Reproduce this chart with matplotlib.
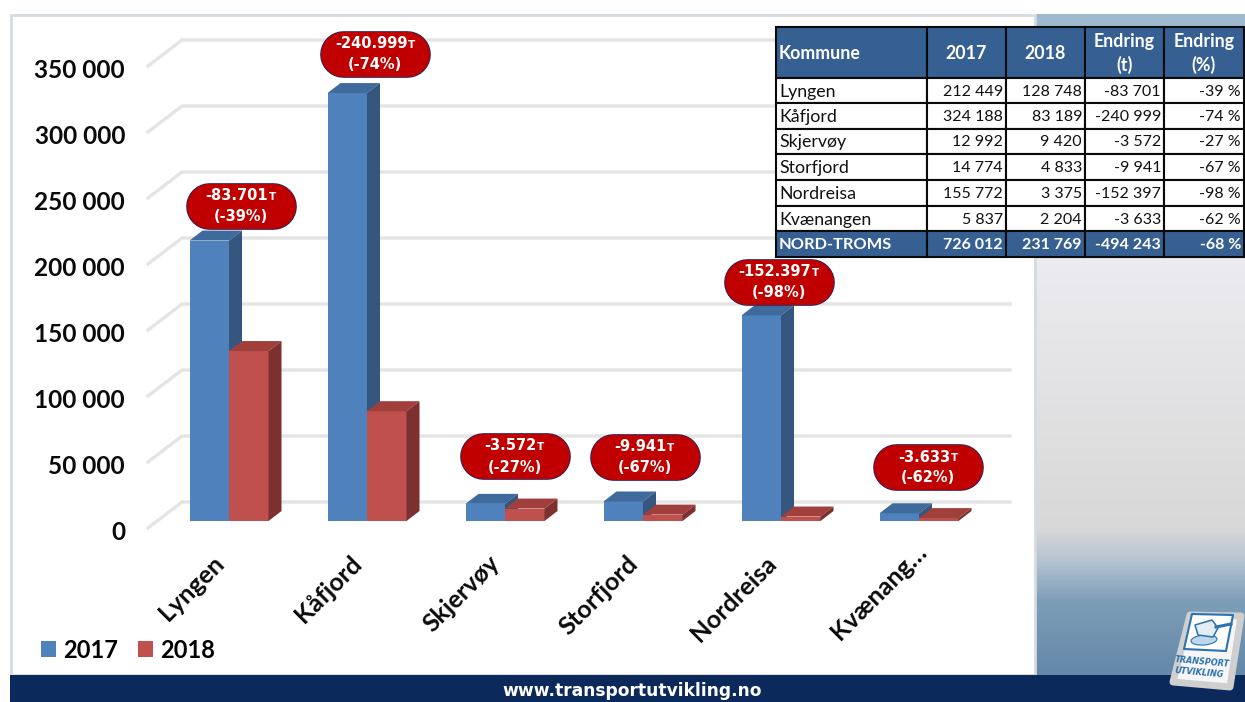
import numpy as np
import matplotlib
matplotlib.use("Agg")
import matplotlib.pyplot as plt
from matplotlib.colors import LinearSegmentedColormap
from matplotlib.patches import Ellipse, Polygon, Rectangle
from matplotlib.transforms import Affine2D

plt.rcParams['font.family'] = ['Lato', 'DejaVu Sans']

# chart values
kommuner = ["Lyngen", "Kåfjord", "Skjervøy", "Storfjord", "Nordreisa", "Kvænang…"]
v2017 = [212449, 324188, 12992, 14774, 155772, 5837]
v2018 = [128748, 83189, 9420, 4833, 3375, 2204]
yticks = [0, 50000, 100000, 150000, 200000, 250000, 300000, 350000]
ylabels = ["0", "50 000", "100 000", "150 000", "200 000", "250 000", "300 000", "350 000"]

# callouts
call_tons = ["-83.701", "-240.999", "-3.572", "-9.941", "-152.397", "-3.633"]
call_pct = ["(-39%)", "(-74%)", "(-27%)", "(-67%)", "(-98%)", "(-62%)"]
call_x = [241, 375, 514.5, 644.5, 778.5, 928]
call_y = [205.5, 53.5, 456, 456.5, 281.5, 467]

# table
header = ["Kommune", "2017", "2018", "Endring\n(t)", "Endring\n(%)"]
rows = [
    ["Lyngen", "212 449", "128 748", "-83 701", "-39 %"],
    ["Kåfjord", "324 188", "83 189", "-240 999", "-74 %"],
    ["Skjervøy", "12 992", "9 420", "-3 572", "-27 %"],
    ["Storfjord", "14 774", "4 833", "-9 941", "-67 %"],
    ["Nordreisa", "155 772", "3 375", "-152 397", "-98 %"],
    ["Kvænangen", "5 837", "2 204", "-3 633", "-62 %"],
]
total = ["NORD-TROMS", "726 012", "231 769", "-494 243", "-68 %"]

W, H = 1245, 702
BLUE, BLUE_TOP, BLUE_SIDE = "#4F81BD", "#3F6A9C", "#34567F"
RED, RED_TOP, RED_SIDE = "#C0504D", "#A03F3C", "#7C3130"
NAVY = "#0B2A5B"
TBL = "#376092"
LOGO = "#2A72B0"

fig = plt.figure(figsize=(W / 100, H / 100), dpi=100, facecolor="white")

# background, in pixel coords
bg = fig.add_axes([0, 0, 1, 1], zorder=0)
cm = LinearSegmentedColormap.from_list("panel", [
    (0, "#9FB9CE"), (0.03, "#9FB9CE"), (0.37, "#ECECF0"), (0.78, "#D8D8D8"),
    (0.83, "#B4C3D1"), (0.89, "#7E9EB8"), (1, "#6488A8")])
grad = np.linspace(0, 1, 400).reshape(-1, 1)
bg.imshow(grad, cmap=cm, extent=(1036, W, 675, 14), aspect="auto", zorder=1)
bg.add_patch(Rectangle((11, 15), 1024, 660, fc="white", ec="#D5DBE1", lw=2, zorder=1))
bg.add_patch(Rectangle((10, 675), W - 10, 27, fc=NAVY, ec="none", zorder=2))
bg.set_xlim(0, W)
bg.set_ylim(H, 0)
bg.axis("off")
bg.text(632.5, 691, "www.transportutvikling.no", color="white", fontsize=12.35, fontweight="bold",
        family="DejaVu Sans", ha="center", va="center", zorder=3)

# chart axes: 66 px per 50 000, zero at the foot of the bars
ax = fig.add_axes([148 / W, (H - 521) / H, 828 / W, 462 / H], zorder=1)
ax.patch.set_alpha(0)
ax.set_xlim(-0.587, 5.413)
ax.set_ylim(0, 350000)
for s in ax.spines.values():
    s.set_visible(False)

bw = 39.5 / 138
dx = 13 / 138
dy = 10 * 50000 / 66
grid_front = -7 * 50000 / 66
grid_back = 19 * 50000 / 66
for t in yticks:
    ax.plot([-0.587, -0.587 + 34 / 138, 5.413 + 34 / 138],
            [t + grid_front, t + grid_back, t + grid_back],
            color="#E4E4E4", lw=2.4, clip_on=False, zorder=1, solid_joinstyle="miter")


def bar3d(x, val, front, top, side, z):
    ax.bar(x, val, bw, align="edge", color=front, zorder=z)
    ax.add_patch(Polygon([(x, val), (x + bw, val), (x + bw + dx, val + dy), (x + dx, val + dy)],
                         fc=top, ec="none", zorder=z, clip_on=False))
    ax.add_patch(Polygon([(x + bw, 0), (x + bw + dx, dy), (x + bw + dx, val + dy), (x + bw, val)],
                         fc=side, ec="none", zorder=z, clip_on=False))


for i in range(len(kommuner)):
    bar3d(i - bw, v2017[i], BLUE, BLUE_TOP, BLUE_SIDE, 3)
    bar3d(i, v2018[i], RED, RED_TOP, RED_SIDE, 4)

ax.set_yticks(yticks)
ax.set_yticklabels(ylabels, fontsize=17.6, fontweight="bold", color="#0a0a0a")
ax.set_xticks(range(len(kommuner)))
ax.set_xticklabels(kommuner, fontsize=18, fontweight="bold", color="#0a0a0a",
                   rotation=45, ha="right", rotation_mode="anchor")
ax.tick_params(axis="both", length=0)
ax.tick_params(axis="y", pad=16.5)
ax.tick_params(axis="x", pad=22)
# tick_params resets these, so shift the labels afterwards
for lab in ax.get_yticklabels():
    lab.set_transform(lab.get_transform() + Affine2D().translate(0, -9))
xlabs = ax.get_xticklabels()
for lab in xlabs[:-1]:
    lab.set_transform(lab.get_transform() + Affine2D().translate(-17, 0))
# the cut-off label sits further up and right
xlabs[-1].set_transform(xlabs[-1].get_transform() + Affine2D().translate(-4, 12))

leg = ax.legend(handles=[Rectangle((0, 0), 1, 1, fc=BLUE), Rectangle((0, 0), 1, 1, fc=RED)],
                labels=["2017", "2018"], ncol=2, frameon=False,
                prop={"size": 17, "weight": "bold"},
                loc="center left", bbox_to_anchor=(41 / W, (H - 650) / H),
                bbox_transform=fig.transFigure, handlelength=0.64, handleheight=0.64,
                handletextpad=0.3, columnspacing=0.85, borderpad=0, borderaxespad=0)

# overlay for callouts, table and logo
ov = fig.add_axes([0, 0, 1, 1], zorder=2)
ov.set_xlim(0, W)
ov.set_ylim(H, 0)
ov.axis("off")

for x, y, tons, pct in zip(call_x, call_y, call_tons, call_pct):
    # pill: thick round-capped lines, 46 px tall
    ov.plot([x - 32, x + 32], [y, y], color="#1F1F5F", lw=33.6, solid_capstyle="round", zorder=3)
    ov.plot([x - 32, x + 32], [y, y], color="#C00000", lw=32.4, solid_capstyle="round", zorder=3)
    t = ov.text(x - 4, y - 10, tons, color="white", fontsize=10.5, fontweight="bold",
                family="DejaVu Sans", ha="center", va="center", zorder=4)
    ov.annotate("T", xy=(1, 0), xycoords=t, xytext=(0.5, 1), textcoords="offset points",
                color="white", fontsize=7.5, fontweight="bold", family="DejaVu Sans",
                ha="left", va="bottom", zorder=4)
    ov.text(x, y + 11, pct, color="white", fontsize=10.5, fontweight="bold",
            family="DejaVu Sans", ha="center", va="center", zorder=4)

col_edges = [776, 927, 1006, 1085, 1164, 1244]
row_edges = [27, 78, 103, 129, 154, 180, 206, 231, 257]
all_rows = [header] + rows + [total]
for r, vals in enumerate(all_rows):
    filled = r == 0 or r == len(all_rows) - 1
    for c, val in enumerate(vals):
        x0, x1 = col_edges[c], col_edges[c + 1]
        y0, y1 = row_edges[r], row_edges[r + 1]
        ov.add_patch(Rectangle((x0, y0), x1 - x0, y1 - y0, fc=TBL if filled else "white",
                               ec="#0a0a0a", lw=1.5, zorder=5))
        if r == 0:
            px, ha = (x0 + 3, "left") if c == 0 else ((x0 + x1) / 2, "center")
        else:
            px, ha = (x0 + 3, "left") if c == 0 else (x1 - 3, "right")
        fs = 12.8 if (c == 0 or r == 0) else 11.5
        if r == len(all_rows) - 1 and c == 0:
            fs = 11.8
        ov.text(px, (y0 + y1) / 2 + 1, val, color="white" if filled else "#111111", ha=ha, va="center",
                fontsize=fs, fontweight="bold" if filled else "normal", linespacing=1.45, zorder=6)

# logo tile
ov.add_patch(Polygon([(1190, 615), (1241, 616), (1230, 687), (1173, 682)], fc="#F6F6F6", ec="#CFCFCF",
                     lw=5, joinstyle="round", zorder=7))
ov.add_patch(Polygon([(1192, 614), (1233, 615), (1226, 651), (1184, 649)], fc="white", ec=LOGO,
                     lw=1.5, joinstyle="round", zorder=8))
ov.add_patch(Ellipse((1204, 640), 26, 10, angle=-5, fc="#BFD7EA", ec=LOGO, lw=0.8, zorder=9))
ov.add_patch(Polygon([(1195, 625), (1212, 620), (1218, 628), (1213, 637), (1198, 635)], fc="#E4EDF4",
                     ec=LOGO, lw=1.1, joinstyle="round", zorder=10))
ov.plot([1216, 1231], [627, 624], color=LOGO, lw=2.2, zorder=10)
ov.text(1202, 662, "TRANSPORT", color=LOGO, fontsize=5.9, fontweight="bold", style="italic",
        family="DejaVu Sans", ha="center", va="center", rotation=-5, zorder=10)
ov.text(1199, 672.5, "UTVIKLING", color=LOGO, fontsize=5.9, fontweight="bold", style="italic",
        family="DejaVu Sans", ha="center", va="center", rotation=-5, zorder=10)

fig.savefig("out.png", dpi=100)
